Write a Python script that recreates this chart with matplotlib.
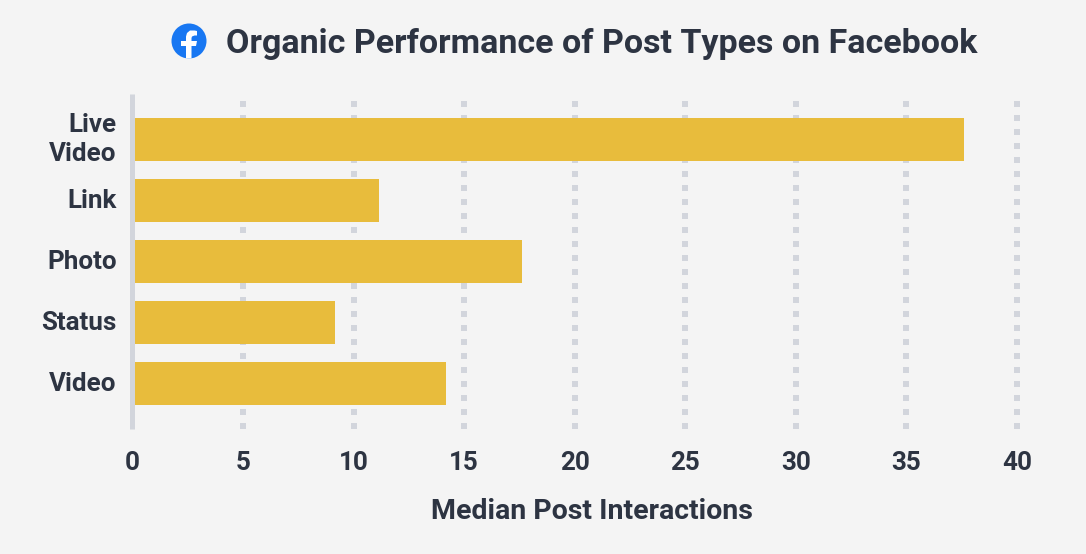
import matplotlib
matplotlib.use("Agg")
import matplotlib.pyplot as plt
from matplotlib.patches import Circle, Polygon
from matplotlib.transforms import ScaledTranslation

categories = ["Live\nVideo", "Link", "Photo", "Status", "Video"]
values = [37.6, 11.15, 17.6, 9.16, 14.18]
xticks = [0, 5, 10, 15, 20, 25, 30, 35, 40]
title = "Organic Performance of Post Types on Facebook"
xlabel = "Median Post Interactions"

W, H = 1086, 554
BG = "#F4F4F4"
INK = "#2D3442"
GRID = "#D2D5DC"
BAR = "#E8BC3C"
plt.rcParams["font.family"] = "Roboto"

fig = plt.figure(figsize=(W / 100, H / 100), dpi=100, facecolor=BG)
x0, x1, top, bot = 132.4, 1017.0, 94.0, 429.0
ax = fig.add_axes([x0 / W, 1 - bot / H, (x1 - x0) / W, (bot - top) / H], facecolor="none")
ax.set_xlim(0, 40)
ax.set_ylim((bot - 139.5) / 61, (top - 139.5) / 61)

ypos = list(range(len(categories)))
ax.barh(ypos, values, height=43 / 61, color=BAR, zorder=3, left=0)
lw = 6 * 0.72
for t in xticks[1:]:
    ax.axvline(t, color=GRID, lw=lw, zorder=1, ymin=0, ymax=0.985, clip_on=False,
               linestyle=(0, (6 / 6, 8 / 6)), dash_capstyle="butt")
ax.axvline(0, color=GRID, lw=5 * 0.72, zorder=4, clip_on=False, solid_capstyle="butt")

for s in ax.spines.values():
    s.set_visible(False)
ax.set_yticks(ypos, categories, fontsize=18.7, fontweight="bold", color=INK, linespacing=1.26, ha="right")
ax.set_xticks(xticks, [str(t) for t in xticks], fontsize=18.7, fontweight="bold", color=INK)
ax.tick_params(axis="both", length=0)
ax.tick_params(axis="y", pad=11.2)
ax.tick_params(axis="x", pad=16)
for i, lab in enumerate(ax.get_yticklabels()):
    dy = 5.0 if i == 0 else 2.0
    lab.set_transform(lab.get_transform() + ScaledTranslation(0, dy / 100, fig.dpi_scale_trans))

fig.text(591.5 / W, 1 - 511.5 / H, xlabel, ha="center", va="center", fontsize=20.5,
         fontweight="bold", color=INK)
fig.text(602 / W, 1 - 43.5 / H, title, ha="center", va="center", fontsize=24.5,
         fontweight="bold", color=INK)

# Facebook icon in pixel coordinates
ov = fig.add_axes([0, 0, 1, 1], facecolor="none")
ov.set_xlim(0, W)
ov.set_ylim(H, 0)
ov.axis("off")
ov.add_patch(Circle((189, 41), 17.5, fc="#1877F2", ec="none"))
f_shape = [(186, 58.5), (186, 46), (181, 46), (181, 41), (186, 41), (186, 36.5),
           (187, 33), (190, 30.5), (194.5, 30.5), (197, 31), (197, 35.5), (194.5, 35.5),
           (192, 36.5), (191.5, 38), (191.5, 41), (197, 41), (196, 46), (191.5, 46), (191.5, 58.5)]
ov.add_patch(Polygon(f_shape, closed=True, fc="white", ec="none"))

fig.savefig("out.png", dpi=100, facecolor=BG)
